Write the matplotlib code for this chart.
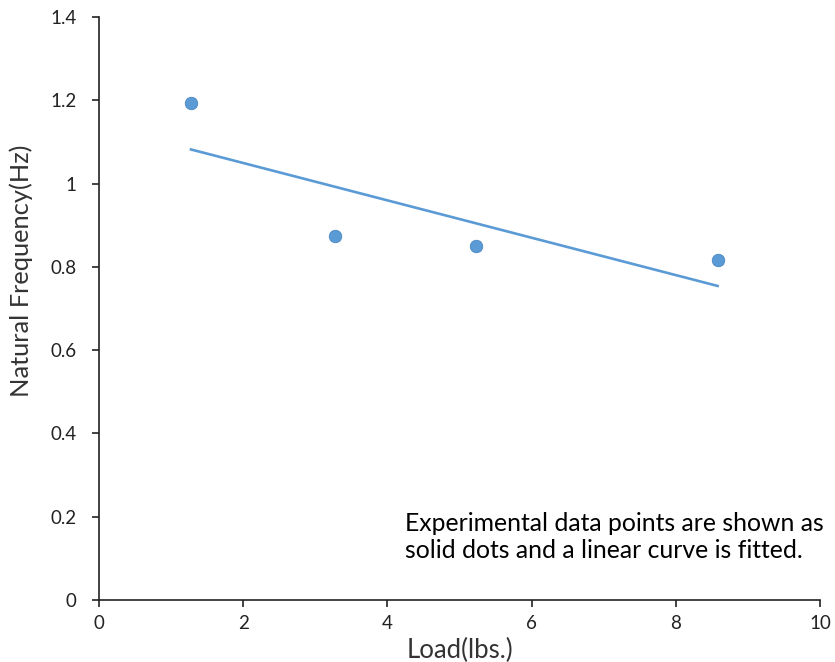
import matplotlib.pyplot as plt
import numpy as np

plt.rcParams['font.family'] = ['Lato', 'DejaVu Sans']

load = [1.276, 3.27, 5.23, 8.58]
freq = [1.193, 0.874, 0.85, 0.816]
xticks = [0, 2, 4, 6, 8, 10]
yticks = [0, 0.2, 0.4, 0.6, 0.8, 1, 1.2, 1.4]
ytick_labels = ["0", "0.2", "0.4", "0.6", "0.8", "1", "1.2", "1.4"]

blue = "#5B9BD5"

fig = plt.figure(figsize=(8.35, 6.62), dpi=100)
ax = fig.add_axes([0.1186, 0.0937, 0.8634, 0.8806])

# linear fit of the measured points
k, b = np.polyfit(load, freq, 1)
xs = np.array([min(load), max(load)])
ax.plot(xs, k * xs + b, color=blue, lw=1.9)
ax.plot(load, freq, 'o', color=blue, ms=9, mec="#4a88c0", mew=0.6)

ax.set_xlim(0, 10)
ax.set_ylim(0, 1.4)
ax.set_xticks(xticks)
ax.set_yticks(yticks)
ax.set_yticklabels(ytick_labels)
ax.tick_params(labelsize=13.5, colors="#222222", length=5, width=1.2, direction='out')
ax.tick_params(axis='y', pad=11)
ax.tick_params(axis='x', pad=6)
for s in ['top', 'right']:
    ax.spines[s].set_visible(False)
for s in ['left', 'bottom']:
    ax.spines[s].set_linewidth(1.2)
    ax.spines[s].set_color("#222222")

ax.set_xlabel("Load(lbs.)", fontsize=18.5, labelpad=4, color="#333333")
ax.set_ylabel("Natural Frequency(Hz)", fontsize=18.3, color="#333333")
ax.yaxis.set_label_coords(-0.092, 0.564)

ax.text(0.4245, 0.151, "Experimental data points are shown as\nsolid dots and a linear curve is fitted.",
        transform=ax.transAxes, fontsize=17.8, ha='left', va='top', linespacing=1.2)

fig.savefig("out.png", dpi=100)
